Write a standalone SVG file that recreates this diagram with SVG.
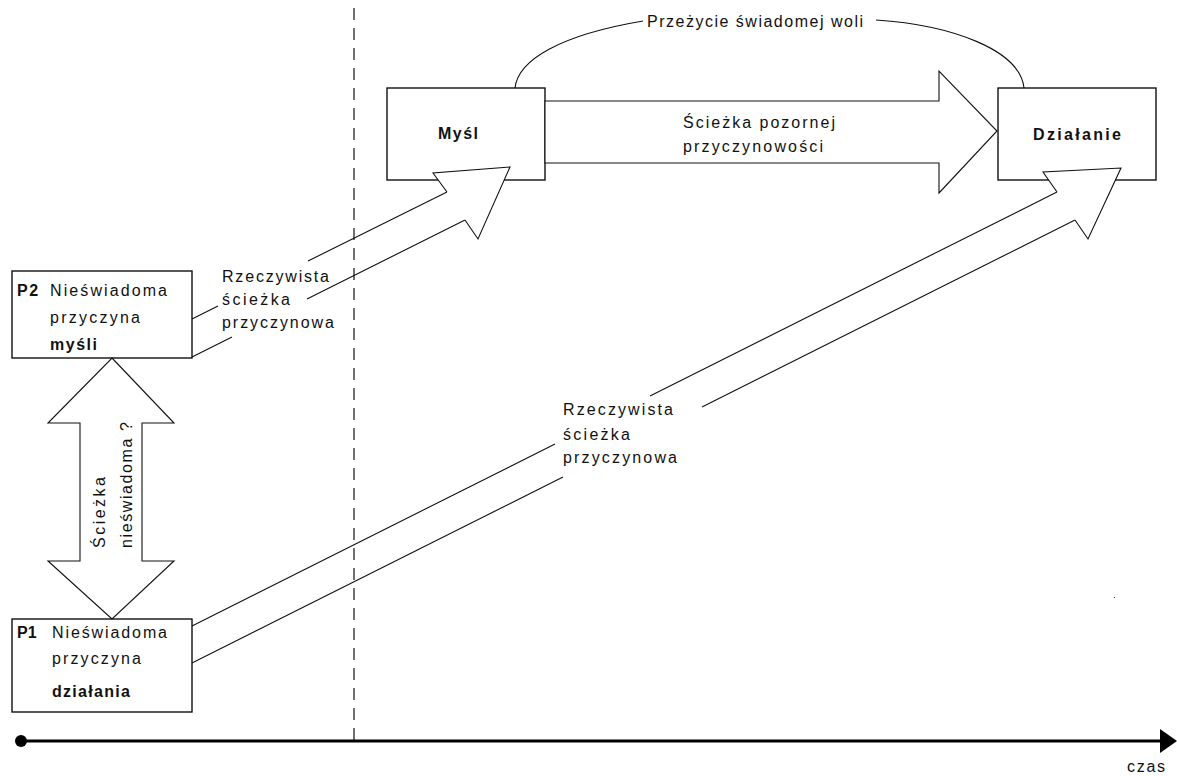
<svg xmlns="http://www.w3.org/2000/svg" width="1177" height="776" viewBox="0 0 1177 776">
  <style>
    .box { fill: #fff; stroke: #111; stroke-width: 1.4; }
    .t { font-family: "Liberation Sans", Arial, sans-serif; font-size: 16px; fill: #111; }
    .b { font-weight: bold; }
    .ln { fill: none; stroke: #111; stroke-width: 1.1; }
    .shape { fill: #fff; stroke: #111; stroke-width: 1.1; stroke-linejoin: miter; }
    .cover { fill: #fff; stroke: none; }
    .dash { fill: none; stroke: #111; stroke-width: 1.2; stroke-dasharray: 12 8; }
    .axis { fill: none; stroke: #000; stroke-width: 3; }
  </style>
  <rect width="1177" height="776" fill="#fff"/>

  <!-- "now" divider -->
  <line id="divider" class="dash" x1="354" y1="8" x2="354" y2="740"/>

  <!-- time axis -->
  <g id="timeline">
    <line class="axis" x1="21" y1="741" x2="1162" y2="741"/>
    <circle cx="21" cy="741" r="6" fill="#000"/>
    <polygon points="1160,729 1177,741 1160,753" fill="#000"/>
    <text class="t" x="1127" y="772" textLength="38" lengthAdjust="spacing">czas</text>
    <rect x="1114" y="597" width="1" height="1" fill="#333"/>
  </g>

  <!-- nodes -->
  <g id="node-p2">
    <rect class="box" x="12" y="271" width="180" height="87"/>
    <text class="t b" x="17" y="296" letter-spacing="1.5">P2</text>
    <text class="t" x="50" y="296" textLength="117" lengthAdjust="spacing">Nieświadoma</text>
    <text class="t" x="50" y="323" textLength="90" lengthAdjust="spacing">przyczyna</text>
    <text class="t b" x="50" y="350" textLength="47" lengthAdjust="spacing">myśli</text>
  </g>

  <g id="node-p1">
    <rect class="box" x="12" y="619" width="180" height="93"/>
    <text class="t b" x="17" y="638">P1</text>
    <text class="t" x="52" y="638" textLength="115" lengthAdjust="spacing">Nieświadoma</text>
    <text class="t" x="52" y="664" textLength="89" lengthAdjust="spacing">przyczyna</text>
    <text class="t b" x="52" y="697" textLength="78" lengthAdjust="spacing">działania</text>
  </g>

  <g id="node-mysl">
    <rect class="box" x="387" y="88" width="158" height="92"/>
    <text class="t b" x="438" y="139" textLength="40" lengthAdjust="spacing">Myśl</text>
  </g>

  <g id="node-dzialanie">
    <rect class="box" x="998" y="88" width="158" height="92"/>
    <text class="t b" x="1033" y="140" textLength="88" lengthAdjust="spacing">Działanie</text>
  </g>

  <!-- connectors -->
  <g id="connectors">
    <!-- apparent causation: Myśl -> Działanie -->
    <g id="edge-apparent">
      <polygon class="shape" points="545,101 939,101 939,71 997,131 939,193 939,163 545,163"/>
      <text class="t" x="683" y="128" textLength="152" lengthAdjust="spacing">Ścieżka pozornej</text>
      <text class="t" x="683" y="152" textLength="140" lengthAdjust="spacing">przyczynowości</text>
    </g>

    <!-- experience of conscious will: arc over the top -->
    <g id="edge-will">
      <path class="ln" d="M515,88 C518,60 560,35 643,21"/>
      <path class="ln" d="M876,20 C952,25 1020,50 1024,88"/>
      <text class="t" x="647" y="27" textLength="216" lengthAdjust="spacing">Przeżycie świadomej woli</text>
    </g>

    <!-- real causal path: P2 -> Myśl -->
    <g id="edge-p2-mysl">
      <line class="ln" x1="192" y1="319" x2="218" y2="306"/>
      <line class="ln" x1="308" y1="261" x2="447" y2="192"/>
      <line class="ln" x1="192" y1="357" x2="232" y2="337"/>
      <line class="ln" x1="307" y1="299" x2="465" y2="220"/>
      <polygon class="cover" points="447,192 433,173 510,167 478,239 465,220"/>
      <polyline class="ln" points="447,192 433,173 510,167 478,239 465,220"/>
      <text class="t" x="222" y="282" textLength="107" lengthAdjust="spacing">Rzeczywista</text>
      <text class="t" x="222" y="305" textLength="68" lengthAdjust="spacing">ścieżka</text>
      <text class="t" x="222" y="328" textLength="112" lengthAdjust="spacing">przyczynowa</text>
    </g>

    <!-- real causal path: P1 -> Działanie -->
    <g id="edge-p1-dzialanie">
      <line class="ln" x1="192" y1="626" x2="555" y2="444"/>
      <line class="ln" x1="650" y1="396" x2="1057" y2="192"/>
      <line class="ln" x1="192" y1="663" x2="563" y2="477"/>
      <line class="ln" x1="702" y1="407" x2="1075" y2="220"/>
      <polygon class="cover" points="1057,192 1043,172 1121,168 1088,239 1075,220"/>
      <polyline class="ln" points="1057,192 1043,172 1121,168 1088,239 1075,220"/>
      <text class="t" x="563" y="415" textLength="110" lengthAdjust="spacing">Rzeczywista</text>
      <text class="t" x="563" y="440" textLength="67" lengthAdjust="spacing">ścieżka</text>
      <text class="t" x="563" y="463" textLength="114" lengthAdjust="spacing">przyczynowa</text>
    </g>

    <!-- unconscious path between P1 and P2 -->
    <g id="edge-p1-p2">
      <polygon class="shape" points="112,358 174,423 142,423 142,561 174,561 112,619 48,561 80,561 80,423 48,423"/>
      <text class="t" transform="translate(105,548) rotate(-90)" textLength="71" lengthAdjust="spacing">Ścieżka</text>
      <text class="t" transform="translate(132,548) rotate(-90)" textLength="126" lengthAdjust="spacing">nieświadoma ?</text>
    </g>
  </g>
</svg>
